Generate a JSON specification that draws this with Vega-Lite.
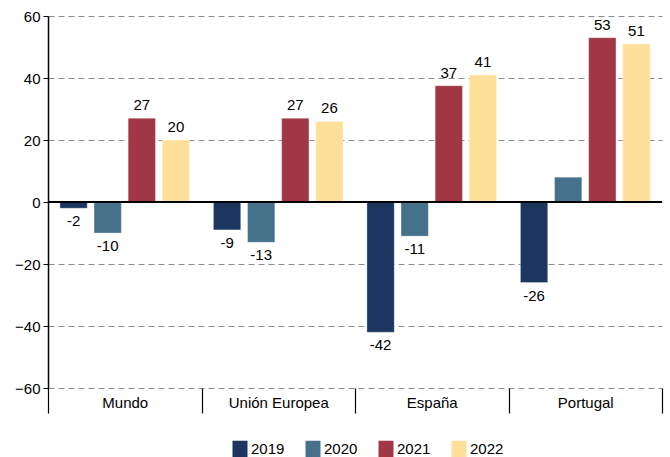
{
  "$schema": "https://vega.github.io/schema/vega-lite/v6.json",
  "autosize": "none",
  "width": 614,
  "height": 372,
  "padding": {"left": 48, "top": 16, "right": 8, "bottom": 69},
  "background": "white",
  "config": {
    "font": "Liberation Sans",
    "view": {"stroke": null},
    "axis": {"labelFont": "Liberation Sans", "labelFontSize": 15, "labelColor": "black"},
    "legend": {"labelFont": "Liberation Sans", "labelFontSize": 15, "labelColor": "black"}
  },
  "data": {
    "values": [
      {"region": "Mundo", "year": "2019", "value": -2, "label": "-2"},
      {"region": "Mundo", "year": "2020", "value": -10, "label": "-10"},
      {"region": "Mundo", "year": "2021", "value": 27, "label": "27"},
      {"region": "Mundo", "year": "2022", "value": 20, "label": "20"},
      {"region": "Unión Europea", "year": "2019", "value": -9, "label": "-9"},
      {"region": "Unión Europea", "year": "2020", "value": -13, "label": "-13"},
      {"region": "Unión Europea", "year": "2021", "value": 27, "label": "27"},
      {"region": "Unión Europea", "year": "2022", "value": 26, "label": "26"},
      {"region": "España", "year": "2019", "value": -42, "label": "-42"},
      {"region": "España", "year": "2020", "value": -11, "label": "-11"},
      {"region": "España", "year": "2021", "value": 37.5, "label": "37"},
      {"region": "España", "year": "2022", "value": 41, "label": "41"},
      {"region": "Portugal", "year": "2019", "value": -26, "label": "-26"},
      {"region": "Portugal", "year": "2020", "value": 8, "label": ""},
      {"region": "Portugal", "year": "2021", "value": 53, "label": "53"},
      {"region": "Portugal", "year": "2022", "value": 51, "label": "51"}
    ]
  },
  "encoding": {
    "x": {
      "field": "region", "type": "nominal", "sort": null,
      "scale": {"paddingInner": 0, "paddingOuter": 0},
      "axis": {
        "title": null, "domain": false, "labelAngle": 0,
        "tickBand": "extent", "tickSize": 25, "tickColor": "black", "tickWidth": 1.2,
        "labelPadding": -18, "grid": false
      }
    },
    "xOffset": {"field": "year", "type": "nominal", "scale": {"paddingInner": 0.2, "paddingOuter": 0.35}},
    "y": {
      "field": "value", "type": "quantitative",
      "scale": {"domain": [-60, 60], "nice": false},
      "axis": {
        "title": null, "values": [-60, -40, -20, 0, 20, 40, 60],
        "domainColor": "black", "domainWidth": 1.5, "tickColor": "black", "tickSize": 5,
        "labelPadding": 3,
        "grid": true, "gridColor": "#8c8c8c", "gridDash": [6, 4], "gridWidth": 1
      }
    }
  },
  "layer": [
    {
      "mark": {"type": "bar", "stroke": "white", "strokeWidth": 0.6, "strokeOpacity": 0.5},
      "encoding": {
        "color": {
          "field": "year", "type": "nominal",
          "scale": {"domain": ["2019", "2020", "2021", "2022"], "range": ["#1C365F", "#46718B", "#A13645", "#FFE09B"]},
          "legend": {
            "title": null, "orient": "none", "legendX": 183, "legendY": 424, "direction": "horizontal",
            "symbolType": "M-0.88,-1H0.88V1H-0.88Z", "symbolSize": 290, "symbolStrokeWidth": 0, "symbolOpacity": 1,
            "columnPadding": 19, "labelOffset": 2
          }
        }
      }
    },
    {
      "mark": {"type": "rule", "color": "black", "strokeWidth": 1.5},
      "encoding": {"y": {"datum": 0}, "x": {"value": 0}, "x2": {"value": "width"}, "xOffset": null}
    },
    {
      "transform": [{"filter": "datum.value >= 0"}],
      "mark": {"type": "text", "baseline": "bottom", "dy": -5, "fontSize": 15, "color": "black"},
      "encoding": {"text": {"field": "label"}}
    },
    {
      "transform": [{"filter": "datum.value < 0"}],
      "mark": {"type": "text", "baseline": "top", "dy": 6, "fontSize": 15, "color": "black"},
      "encoding": {"text": {"field": "label"}}
    }
  ]
}
